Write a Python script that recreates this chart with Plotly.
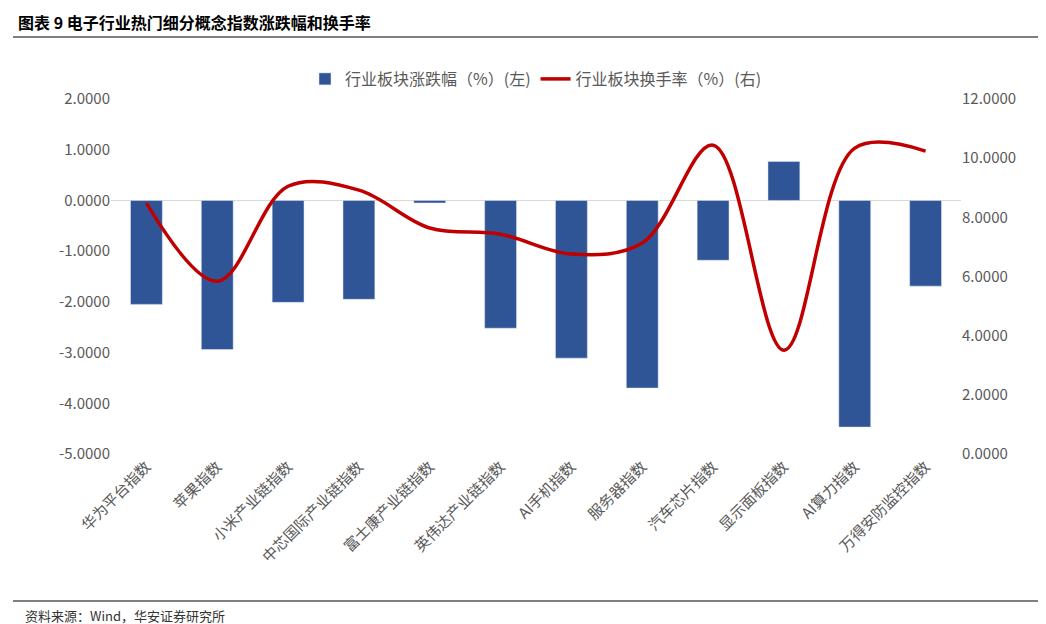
import plotly.graph_objects as go

categories = ["华为平台指数","苹果指数","小米产业链指数","中芯国际产业链指数","富士康产业链指数","英伟达产业链指数",
              "AI手机指数","服务器指数","汽车芯片指数","显示面板指数","AI算力指数","万得安防监控指数"]
change = [-2.05,-2.94,-2.01,-1.95,-0.05,-2.52,-3.11,-3.70,-1.18,0.77,-4.47,-1.69]
turnover = [8.48,5.84,9.05,8.92,7.64,7.43,6.76,7.13,10.44,3.51,10.34,10.24]
left_ticks = [2,1,0,-1,-2,-3,-4,-5]
right_ticks = [12,10,8,6,4,2,0]

font = "Noto Sans CJK SC"
H = 355.0  # plot height in px
def py(pix):  # pixel y -> paper y
    return (446 - pix) / H

fig = go.Figure()
fig.add_bar(x=categories, y=change, name="行业板块涨跌幅（%）(左)", marker_color="#2F5597", width=0.45)
fig.add_scatter(x=categories, y=turnover, name="行业板块换手率（%）(右)", yaxis="y2", mode="lines",
                line=dict(color="#C00000", width=3.5, shape="spline", smoothing=1.0))
fig.update_layout(
    width=1046, height=624, plot_bgcolor="white", paper_bgcolor="white",
    margin=dict(l=103, r=93, t=91, b=178, autoexpand=False),
    font=dict(family=font, size=15, color="#595959"),
    legend=dict(orientation="h", x=0.5, xanchor="center", y=py(71), yanchor="middle", font=dict(size=16)),
    xaxis=dict(tickangle=-45, showline=False, tickfont=dict(size=15), automargin=False),
    yaxis=dict(range=[-5,2], tickvals=left_ticks, ticktext=[f"{v:.4f}" for v in left_ticks],
               showgrid=False, zeroline=True, zerolinecolor="#D9D9D9", zerolinewidth=1, automargin=False),
    yaxis2=dict(range=[0,12], overlaying="y", side="right", tickvals=right_ticks, automargin=False,
                ticktext=[f"{v:.4f}" for v in right_ticks], showgrid=False, zeroline=False),
    annotations=[
        dict(text="<b>图表 9 电子行业热门细分概念指数涨跌幅和换手率</b>", xref="paper", yref="paper",
             x=-95/850, y=py(14), xanchor="left", yanchor="middle",
             showarrow=False, font=dict(size=16, color="black", family=font)),
        dict(text="资料来源：Wind，华安证券研究所", xref="paper", yref="paper",
             x=-88/850, y=py(607), xanchor="left", yanchor="middle",
             showarrow=False, font=dict(size=13, color="#333333", family=font)),
    ],
    shapes=[
        dict(type="line", xref="paper", yref="paper", x0=-98/850, x1=1+88/850, y0=py(29), y1=py(29),
             line=dict(color="black", width=1)),
        dict(type="line", xref="paper", yref="paper", x0=-98/850, x1=1+88/850, y0=py(593), y1=py(593),
             line=dict(color="black", width=1)),
    ],
)
fig.write_html("out.html")
